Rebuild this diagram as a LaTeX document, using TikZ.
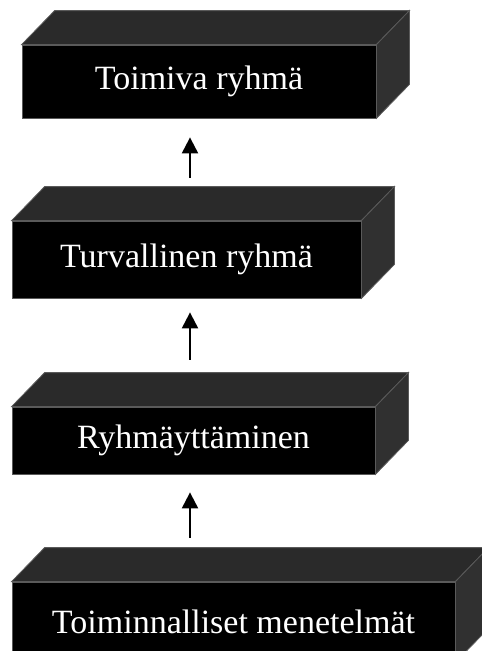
\documentclass[tikz,border=0pt]{standalone}
\usepackage{fontspec}
\setmainfont{Liberation Serif}
\usepackage{tikz}
\usetikzlibrary{arrows.meta, positioning, calc}

\definecolor{topgray}{HTML}{2A2A2A}
\definecolor{sidegray}{HTML}{303030}
\definecolor{edgegray}{HTML}{5A5A5A}

\begin{document}
\begin{tikzpicture}[x=0.75pt, y=-0.75pt,
  front/.style={draw=edgegray, line width=0.6pt, fill=black, text=white,
    inner sep=0pt, font=\fontsize{25.5}{30}\selectfont},
  topface/.style={fill=topgray, draw=edgegray, line width=0.6pt},
  sideface/.style={fill=sidegray, draw=edgegray, line width=0.6pt},
  upar/.style={-{Triangle[width=12pt, length=12pt]}, line width=1.6pt}]
  \useasboundingbox (0,0) rectangle (482,651);
  \clip (0,0) rectangle (482,651);

  % Boxes (front faces)
  \node[front, minimum width=265.5pt, minimum height=54.75pt] (b1) at (199,81.5) {Toimiva ryhmä};
  \node[front, minimum width=261.75pt, minimum height=57.75pt] (b2) at (186.5,259.5) {Turvallinen ryhmä};
  \node[front, minimum width=272.25pt, minimum height=50.25pt] (b3) at (193.5,440.5) {Ryhmäyttäminen};
  \node[front, minimum width=332.25pt, minimum height=60pt] (b4) at (233.5,622) {Toiminnalliset menetelmät};

  % Top and side faces
  \foreach \b in {b1,b2,b3,b4} {
    \draw[topface] (\b.north west) -- ++(33,-34) -- ($(\b.north east)+(33,-34)$) -- (\b.north east) -- cycle;
    \draw[sideface] (\b.north east) -- ++(33,-34) -- ($(\b.south east)+(33,-34)$) -- (\b.south east) -- cycle;
    \coordinate (\b top) at ($(\b.north)+(0,-34)$);
  }

  % Arrows
  \coordinate (ax) at (190,0);
  \draw[upar, shorten <=9*0.75pt, shorten >=19*0.75pt] (ax |- b2top) -- (ax |- b1.south);
  \draw[upar, shorten <=13*0.75pt, shorten >=14*0.75pt] (ax |- b3top) -- (ax |- b2.south);
  \draw[upar, shorten <=10*0.75pt, shorten >=18*0.75pt] (ax |- b4top) -- (ax |- b3.south);
\end{tikzpicture}
\end{document}
